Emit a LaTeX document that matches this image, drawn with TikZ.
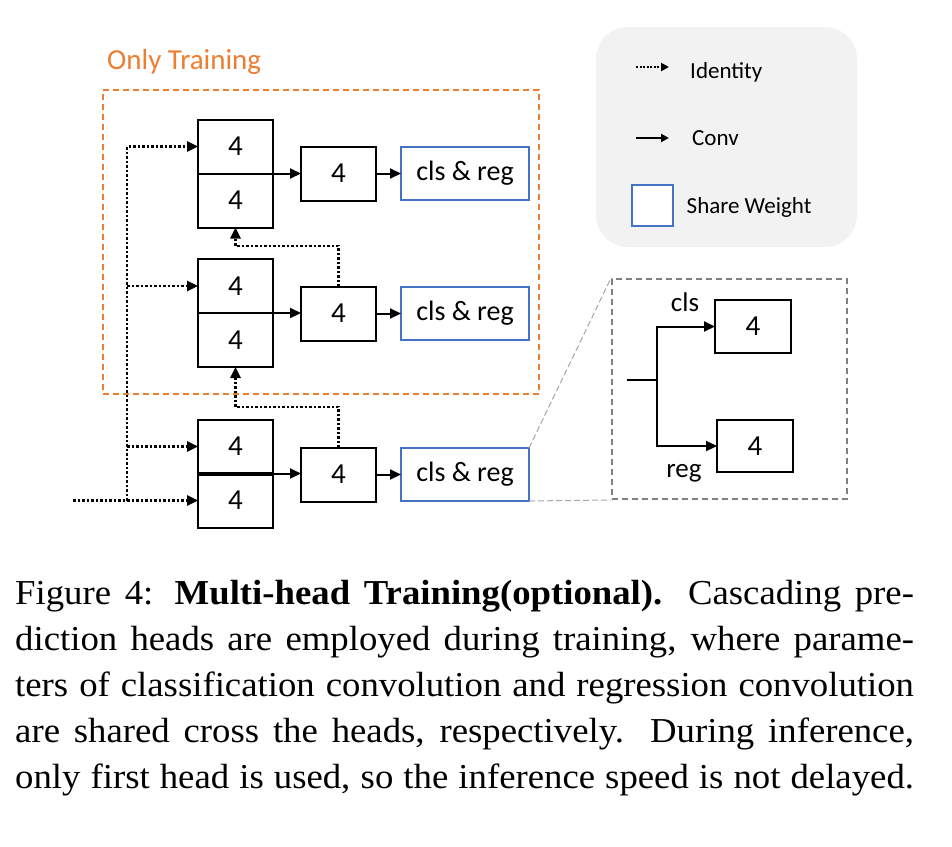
\documentclass[tikz,border=0pt]{standalone}
\usepackage{fontspec}
\setmainfont{Carlito}
\newfontfamily\capfont{Liberation Serif}
\usetikzlibrary{arrows.meta,calc}
\definecolor{orng}{HTML}{ED7D31}
\definecolor{bluew}{HTML}{4472C4}
\definecolor{grayd}{HTML}{7F7F7F}
\definecolor{grayl}{HTML}{A6A6A6}
\definecolor{legbg}{HTML}{F2F2F2}
\newcommand{\capl}[1]{\scalebox{1.05}[1]{\makebox[856pt][s]{#1}}}
\begin{document}
\begin{tikzpicture}[x=1pt,y=-1pt,
 box/.style={draw=black,line width=2pt,minimum width=75pt,minimum height=54pt,inner sep=0pt,outer sep=0pt,font=\fontsize{29}{30}\selectfont},
 clsbox/.style={draw=bluew,line width=2pt,minimum width=128pt,minimum height=53pt,inner sep=0pt,outer sep=0pt,font=\fontsize{28}{30}\selectfont},
 conv/.style={line width=2pt,-{Triangle[length=11pt,width=10pt]}},
 identity/.style={line width=2.5pt,dash pattern=on 2.5pt off 2pt,-{Triangle[length=11pt,width=10pt]}},
 smallconv/.style={line width=2pt,-{Triangle[length=8pt,width=8pt]}},
 smallid/.style={line width=2pt,dash pattern=on 2pt off 1.5pt,-{Triangle[length=8pt,width=8pt]}},
 lab/.style={anchor=base west,inner sep=0pt},
 legtext/.style={anchor=base west,inner sep=0pt,font=\fontsize{23}{26}\selectfont},
 capline/.style={anchor=base west,inner sep=0pt,font=\capfont\fontsize{35}{40}\selectfont},
 ]
\useasboundingbox (0,0) rectangle (952,846);

% legend
\node[fill=legbg,rounded corners=32pt,minimum width=261pt,minimum height=220pt,inner sep=0pt] (leg) at (726.5,137) {};
\coordinate (li0) at (636,67); \coordinate (li1) at (669,67);
\draw[smallid] (li0) -- (li1);
\node[legtext] (lid) at (690,78) {Identity};
\coordinate (lc0) at (636,138); \coordinate (lc1) at (669,138);
\draw[smallconv] (lc0) -- (lc1);
\node[legtext] (lcv) at (692,145) {Conv};
\node[draw=bluew,fill=white,line width=2pt,minimum size=41pt,inner sep=0pt] (lsq) at (652.5,205) {};
\node[legtext] (lsw) at (686.5,213) {Share Weight};

% only training box
\node[draw=orng,dash pattern=on 6pt off 4pt,line width=2pt,minimum width=436pt,minimum height=304pt,inner sep=0pt] (otb) at (321,242) {};
\node[lab,text=orng,font=\fontsize{29}{30}\selectfont] (otl) at (107,69) {Only Training};

% pairs
\node[box] (A1) at (235.5,146.5) {4};
\node[box] (A2) at (235.5,200.5) {4};
\node[box] (B1) at (235.5,286) {4};
\node[box] (B2) at (235.5,340) {4};
\node[box] (C1) at (235.5,446.5) {4};
\node[box] (C2) at (235.5,500.5) {4};
\draw[line width=4pt] (C1.south west) -- (C1.south east);

% middle boxes
\node[box] (M1) at (338.5,173.5) {4};
\node[box] (M2) at (338.5,313.5) {4};
\node[box] (M3) at (338.5,474.5) {4};

% cls boxes
\node[clsbox] (K1) at (465,173.5) {cls \& reg};
\node[clsbox] (K2) at (465,313.5) {cls \& reg};
\node[clsbox] (K3) at (465,474.5) {cls \& reg};

% conv arrows
\draw[conv] (A1.south east) -- (A1.south east -| M1.west);
\draw[conv] (B1.south east) -- (B1.south east -| M2.west);
\draw[conv] (C1.south east) -- (C1.south east -| M3.west);
\draw[conv] (M1.east) -- (K1.west);
\draw[conv] (M2.east) -- (K2.west);
\draw[conv] (M3.east) -- (K3.west);

% identity connectors
\coordinate (in0) at (73,500.5);
\coordinate (jx) at (127,500.5);
\draw[identity] (in0) -- (C2.west);
\draw[identity] (jx) |- (A1.west);
\draw[identity] (jx |- B1.west) -- (B1.west);
\draw[identity] (jx |- C1.west) -- (C1.west);
\coordinate (u1) at (235.5,407);
\draw[identity] (M3.north) |- (u1) -- (B2.south);
\coordinate (u2) at (235.5,246);
\draw[identity] (M2.north) |- (u2) -- (A2.south);

% zoom box
\node[draw=grayd,dash pattern=on 6pt off 4pt,line width=2pt,minimum width=235pt,minimum height=220pt,inner sep=0pt] (zb) at (729.5,389) {};
\draw[grayl,line width=1pt,dash pattern=on 6pt off 3pt] (K3.north east) -- (zb.north west);
\draw[grayl,line width=1pt,dash pattern=on 6pt off 3pt] (K3.south east) -- (zb.south west);
\node[box,minimum width=76pt,minimum height=53pt] (P1) at (753,326.5) {4};
\node[box,minimum width=76pt,minimum height=52pt] (P2) at (755,446) {4};
\coordinate (zin) at (627,380);
\coordinate (zj) at (657,380);
\draw[line width=2pt] (zin) -- (zj);
\draw[conv] (zj) |- (P1.west);
\draw[conv] (zj) |- (P2.west);
\node[anchor=base,inner sep=0pt,font=\fontsize{27}{30}\selectfont] (lcls) at (685,311) {cls};
\node[anchor=base,inner sep=0pt,font=\fontsize{27}{30}\selectfont] (lreg) at (684,477) {reg};

% caption
\node[capline] (cap1) at (15,604) {\capl{Figure 4: \textbf{Multi-head Training(optional).} Cascading pre-}};
\node[capline] (cap2) at (15,650) {\capl{diction heads are employed during training, where parame-}};
\node[capline] (cap3) at (15,696) {\capl{ters of classification convolution and regression convolution}};
\node[capline] (cap4) at (15,742) {\capl{are shared cross the heads, respectively.  During inference,}};
\node[capline] (cap5) at (15,788) {\capl{only first head is used, so the inference speed is not delayed.}};
\end{tikzpicture}
\end{document}
